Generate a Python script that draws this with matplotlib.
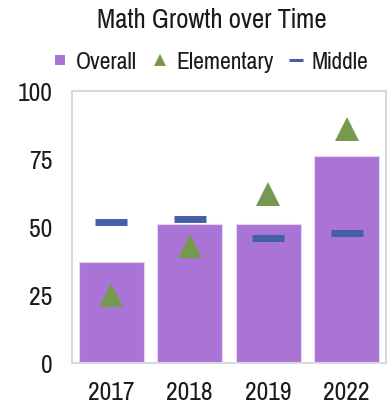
import matplotlib
matplotlib.use("Agg")
import matplotlib.pyplot as plt
from matplotlib.lines import Line2D

plt.rcParams['font.family'] = ['Pragati Narrow', 'Archivo Narrow', 'Roboto Condensed', 'DejaVu Sans']

years = ["2017", "2018", "2019", "2022"]
overall = [37, 51, 51, 76]
elementary = [25, 43, 62, 86]
middle = [52, 53, 46, 48]

fig = plt.figure(figsize=(3.87, 4.07), dpi=100)
ax = fig.add_axes([0.186, 0.108, 0.811, 0.668])

x = list(range(len(years)))
ax.bar(x, overall, width=0.83, color="#A974D6", edgecolor="#E6D6F3", linewidth=0.8, zorder=2)
ax.plot(x, elementary, linestyle="none", marker="^", markersize=17.5, color="#77994F",
        markeredgewidth=0, zorder=3)
ax.plot(x, middle, linestyle="none", marker="_", markersize=23, markeredgewidth=5,
        color="#4460A8", zorder=3)

ax.set_xlim(-0.5, 3.5)
ax.set_ylim(0, 100)
ax.set_yticks([0, 25, 50, 75, 100])
ax.set_xticks(x)
ax.set_xticklabels(years)
ax.tick_params(axis="both", length=0, labelsize=20, colors="#1a1a1a")
ax.tick_params(axis="y", pad=14)
ax.tick_params(axis="x", pad=13)
for s in ax.spines.values():
    s.set_color("#D9D9D9")
    s.set_linewidth(1.5)

fig.text(0.548, 0.950, "Math Growth over Time", ha="center", va="center", fontsize=21,
         color="#1a1a1a")

handles = [
    Line2D([], [], linestyle="none", marker="s", markersize=7, color="#A974D6", markeredgewidth=0),
    Line2D([], [], linestyle="none", marker="^", markersize=8.5, color="#77994F", markeredgewidth=0),
    Line2D([], [], color="#4460A8", linewidth=2.2, solid_capstyle="butt"),
]
fig.legend(handles, ["Overall", "Elementary", "Middle"], loc="center", bbox_to_anchor=(0.545, 0.848),
           ncol=3, frameon=False, fontsize=18.5, handlelength=0.55, handletextpad=0.35,
           columnspacing=0.6, labelcolor="#1a1a1a", borderaxespad=0, borderpad=0)

fig.savefig("out.png", dpi=100)
